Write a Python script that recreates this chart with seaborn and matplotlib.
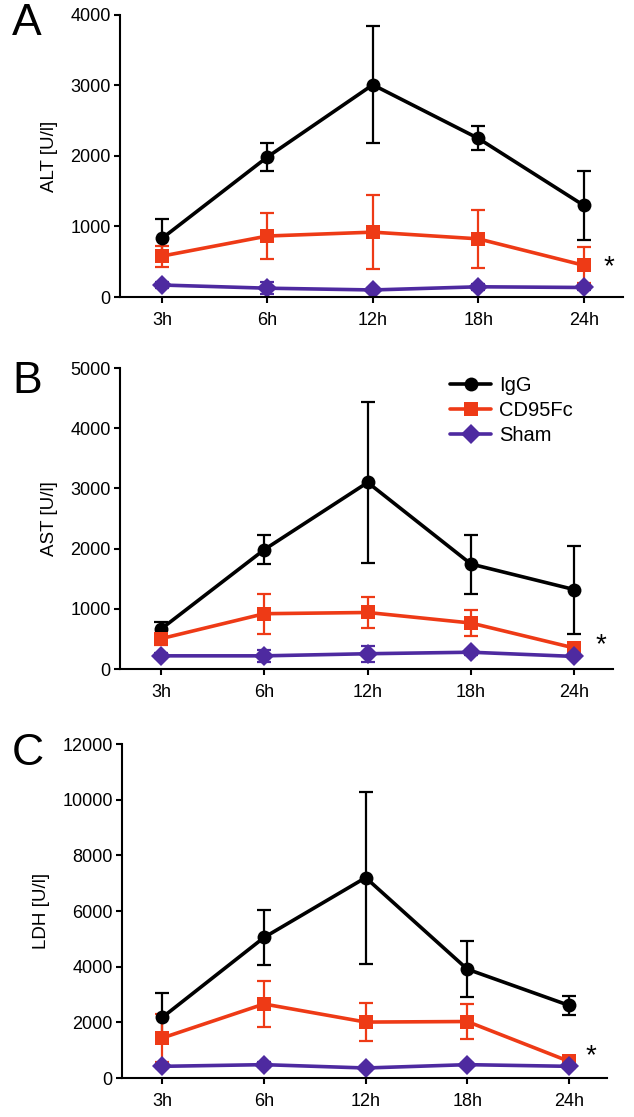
import pandas as pd
import matplotlib.pyplot as plt
import seaborn as sns

sns.set_style("ticks")
plt.rcParams['font.family'] = ['Liberation Sans', 'DejaVu Sans']
plt.rcParams['text.color'] = 'black'
plt.rcParams['axes.labelcolor'] = 'black'
plt.rcParams['xtick.color'] = 'black'
plt.rcParams['ytick.color'] = 'black'

times = ['3h', '6h', '12h', '18h', '24h']
groups = ['IgG', 'CD95Fc', 'Sham']
colors = ['black', '#EE3A16', '#4E2AA0']
markers = ['o', 's', 'D']

# ALT
alt_igg = [830, 1985, 3010, 2250, 1300]
alt_igg_err = [280, 200, 830, 170, 490]
alt_cd95 = [580, 865, 920, 825, 450]
alt_cd95_err = [150, 330, 525, 410, 255]
alt_sham = [170, 125, 100, 145, 135]
alt_sham_err = [40, 85, 30, 40, 30]

# AST
ast_igg = [665, 1985, 3100, 1745, 1320]
ast_igg_err = [115, 240, 1330, 490, 730]
ast_cd95 = [505, 920, 940, 765, 350]
ast_cd95_err = [100, 330, 255, 210, 40]
ast_sham = [220, 220, 255, 280, 210]
ast_sham_err = [40, 100, 130, 40, 30]

# LDH
ldh_igg = [2180, 5050, 7200, 3910, 2610]
ldh_igg_err = [880, 990, 3090, 1010, 350]
ldh_cd95 = [1440, 2660, 2010, 2030, 600]
ldh_cd95_err = [870, 840, 680, 620, 100]
ldh_sham = [420, 480, 360, 480, 420]
ldh_sham_err = [60, 80, 60, 60, 60]

panels = [
    ('A', 'ALT [U/l]', [alt_igg, alt_cd95, alt_sham], [alt_igg_err, alt_cd95_err, alt_sham_err],
     [0, 1000, 2000, 3000, 4000], 330),
    ('B', 'AST [U/l]', [ast_igg, ast_cd95, ast_sham], [ast_igg_err, ast_cd95_err, ast_sham_err],
     [0, 1000, 2000, 3000, 4000, 5000], 280),
    ('C', 'LDH [U/l]', [ldh_igg, ldh_cd95, ldh_sham], [ldh_igg_err, ldh_cd95_err, ldh_sham_err],
     [0, 2000, 4000, 6000, 8000, 10000, 12000], 520),
]
star_x = [4.24, 4.26, 4.22]

# axes rectangles (fig fraction)
rects = [[0.1888, 0.7341, 0.7934, 0.2525],
         [0.1888, 0.4010, 0.7774, 0.2695],
         [0.1920, 0.0349, 0.7647, 0.2990]]
letter_y = [35, 393, 765]

fig = plt.figure(figsize=(6.34, 11.17), dpi=100)

for i, (letter, ylab, means, errs, yticks, star_y) in enumerate(panels):
    ax = fig.add_axes(rects[i])
    rows = []
    for g, m in zip(groups, means):
        for j, v in enumerate(m):
            rows.append({'pos': j, 'value': v, 'group': g})
    df = pd.DataFrame(rows)
    sns.lineplot(data=df, x='pos', y='value', hue='group', style='group',
                 hue_order=groups, style_order=groups,
                 palette=dict(zip(groups, colors)),
                 markers=dict(zip(groups, markers)), dashes=False,
                 markersize=10, markeredgewidth=0, linewidth=2.6,
                 legend=False, ax=ax)
    handles = list(ax.lines[:3])
    for k, g in enumerate(groups):
        ax.errorbar(list(range(len(times))), means[k], yerr=errs[k], fmt='none',
                    ecolor=colors[k], elinewidth=1.6, capsize=4.7, capthick=1.6,
                    zorder=1.8)
    ax.set_xlim(-0.4, 4.37)
    ax.set_ylim(yticks[0], yticks[-1])
    ax.set_yticks(yticks)
    ax.set_xticks(range(len(times)))
    ax.set_xticklabels(times)
    ax.set_xlabel('')
    ax.set_ylabel(ylab, fontsize=13.5, labelpad=9)
    ax.tick_params(axis='both', labelsize=13, width=1.5, length=4, color='black')
    ax.tick_params(axis='y', pad=2.5)
    ax.tick_params(axis='x', pad=7)
    for side in ['left', 'bottom']:
        ax.spines[side].set_linewidth(1.5)
        ax.spines[side].set_color('black')
    sns.despine(ax=ax)
    ax.text(star_x[i], star_y, '*', fontsize=20, ha='center', va='baseline')
    fig.text(12 / 634, 1 - letter_y[i] / 1117, letter, fontsize=32,
             ha='left', va='baseline')
    if i == 1:
        ax.legend(handles, groups, loc='upper left', bbox_to_anchor=(0.67, 0.975),
                  frameon=False, fontsize=14.5, handlelength=2.05,
                  handletextpad=0.4, labelspacing=0.3, borderpad=0,
                  borderaxespad=0)

fig.savefig('out.png', dpi=100)
